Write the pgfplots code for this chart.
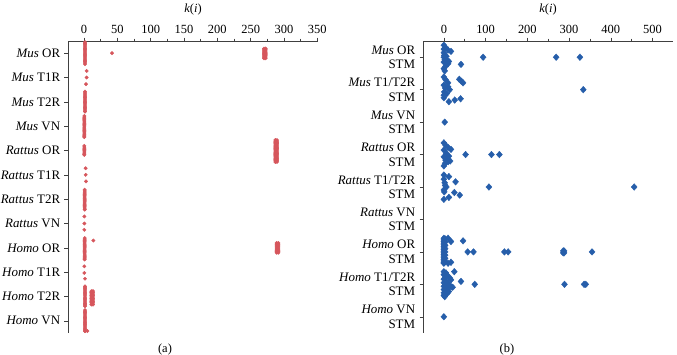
\documentclass[border=0pt]{standalone}
\usepackage{fontspec}
\setmainfont{Liberation Serif}
\usepackage{pgfplots}
\pgfplotsset{compat=1.18}
\definecolor{myred}{RGB}{214,86,92}
\definecolor{myblue}{RGB}{38,94,170}
\begin{document}
\fontsize{12.5}{14}\selectfont
\begin{tikzpicture}
\path[use as bounding box] (0,0) rectangle (677bp,355bp);
\pgfplotsset{
 common/.style={
  scale only axis, width=250bp, height=292bp,
  y dir=reverse,
  axis x line*=top, axis y line*=left,
  axis line style={black!75, line width=0.6pt},
  tick style={black!75, line width=0.5pt},
  tick align=outside,
  major tick length=3.5bp, minor tick length=2.5bp,
  minor x tick num=1,
  ymin=0.5,
  /pgf/number format/assume math mode=true,
  xticklabel style={font=\fontsize{12.5}{14}\selectfont},
  yticklabel style={font=\fontsize{13}{14.5}\selectfont, align=right},
  clip=false,
 }}
\begin{axis}[common, at={(68bp,22bp)}, anchor=south west,
  xmin=-24, xmax=351, ymax=12.5,
  xtick={0,50,...,350},
  ytick={1,...,12},
  yticklabels={{\textit{Mus} OR},{\textit{Mus} T1R},{\textit{Mus} T2R},{\textit{Mus} VN},
   {\textit{Rattus} OR},{\textit{Rattus} T1R},{\textit{Rattus} T2R},{\textit{Rattus} VN},
   {\textit{Homo} OR},{\textit{Homo} T1R},{\textit{Homo} T2R},{\textit{Homo} VN}},
]
\addplot[only marks, mark=*, mark size=1.7bp, color=myred, mark options={draw=none, fill=myred}] coordinates {
(1.5,0.55)(1.5,0.6)(1.5,0.65)(1.5,0.7)(1.5,0.75)(1.5,0.8)(1.5,0.85)(1.5,0.9)(1.5,0.95)(1.5,1.0)(1.5,1.05)(1.5,1.1)(1.5,1.15)(1.5,1.2)(1.5,1.25)(1.5,1.3)(1.5,1.35)(1.5,1.4)(1.5,1.45)
(42,1.0)
(270,0.81)(270,0.86)(270,0.91)(270,0.96)(270,1.01)(270,1.06)(270,1.11)(270,1.16)(270,1.21)
(272.5,0.81)(272.5,0.86)(272.5,0.91)(272.5,0.96)(272.5,1.01)(272.5,1.06)(272.5,1.11)(272.5,1.16)(272.5,1.21)
(4,1.73)(4,2.0)(3,2.27)
(1.5,2.58)(1.5,2.63)(1.5,2.68)(1.5,2.73)(1.5,2.78)(1.5,2.83)(1.5,2.88)(1.5,2.93)(1.5,2.98)(1.5,3.03)(1.5,3.08)(1.5,3.13)(1.5,3.18)(1.5,3.23)(1.5,3.28)(1.5,3.33)(1.5,3.38)(1.5,3.4)
(0.5,3.58)(0.5,3.63)(0.5,3.68)(0.5,3.73)(0.5,3.78)(0.5,3.83)(0.5,3.88)(0.5,3.93)(0.5,3.98)(0.5,4.03)(0.5,4.08)(0.5,4.13)(0.5,4.18)(0.5,4.23)(0.5,4.28)(0.5,4.33)(0.5,4.38)(0.5,4.43)(0.5,4.45)
(0.5,4.81)(0.5,4.86)(0.5,4.91)(0.5,4.96)(0.5,5.01)(0.5,5.06)(0.5,5.11)(0.5,5.16)(0.5,5.18)
(287,4.57)(287,4.62)(287,4.67)(287,4.72)(287,4.77)(287,4.82)(287,4.87)(287,4.92)(287,4.97)(287,5.02)(287,5.07)(287,5.12)(287,5.17)(287,5.22)(287,5.27)(287,5.32)(287,5.37)(287,5.42)(287,5.47)
(289.5,4.57)(289.5,4.62)(289.5,4.67)(289.5,4.72)(289.5,4.77)(289.5,4.82)(289.5,4.87)(289.5,4.92)(289.5,4.97)(289.5,5.02)(289.5,5.07)(289.5,5.12)(289.5,5.17)(289.5,5.22)(289.5,5.27)(289.5,5.32)(289.5,5.37)(289.5,5.42)(289.5,5.47)
(2.5,5.73)(2.5,6.0)(3,6.27)
(1,6.61)(1,6.66)(1,6.71)(1,6.76)(1,6.81)(1,6.86)(1,6.91)(1,6.96)(1,7.01)(1,7.06)(1,7.11)(1,7.16)(1,7.21)(1,7.26)(1,7.31)(1,7.36)(1,7.41)(1,7.43)
(0.5,7.71)(0.5,8.0)(0.5,8.26)
(1,8.6)(1,8.65)(1,8.7)(1,8.75)(1,8.8)(1,8.85)(1,8.9)(1,8.95)(1,9.0)(1,9.05)(1,9.1)(1,9.15)(1,9.2)(1,9.25)(1,9.3)(1,9.35)(1,9.4)(1,9.45)(1,9.48)
(14,8.7)
(289,8.8)(289,8.85)(289,8.9)(289,8.95)(289,9.0)(289,9.05)(289,9.1)(289,9.15)(289,9.2)
(291.5,8.8)(291.5,8.85)(291.5,8.9)(291.5,8.95)(291.5,9.0)(291.5,9.05)(291.5,9.1)(291.5,9.15)(291.5,9.2)
(0.5,9.76)(0.5,10.03)(1.5,10.27)
(1.5,10.58)(1.5,10.63)(1.5,10.68)(1.5,10.73)(1.5,10.78)(1.5,10.83)(1.5,10.88)(1.5,10.93)(1.5,10.98)(1.5,11.03)(1.5,11.08)(1.5,11.13)(1.5,11.18)(1.5,11.23)(1.5,11.28)(1.5,11.33)(1.5,11.38)(1.5,11.4)
(11,10.78)(11,10.84)(11,10.9)(11,10.96)(11,11.02)(11,11.08)(11,11.14)(11,11.2)(11,11.26)(11,11.33)
(13.5,10.78)(13.5,10.84)(13.5,10.9)(13.5,10.96)(13.5,11.02)(13.5,11.08)(13.5,11.14)(13.5,11.2)(13.5,11.26)(13.5,11.33)
(1.5,11.56)(1.5,11.61)(1.5,11.66)(1.5,11.71)(1.5,11.76)(1.5,11.81)(1.5,11.86)(1.5,11.91)(1.5,11.96)(1.5,12.01)(1.5,12.06)(1.5,12.11)(1.5,12.16)(1.5,12.21)(1.5,12.26)(1.5,12.31)(1.5,12.36)(1.5,12.41)(1.5,12.42)
(5,12.42)
};
\end{axis}
\begin{axis}[common, at={(423bp,22bp)}, anchor=south west,
  xmin=-50, xmax=549, ymax=9.5,
  xtick={0,100,...,500},
  ytick={1,...,9},
  yticklabels={{\textit{Mus} OR\\STM},{\textit{Mus} T1/T2R\\STM},{\textit{Mus} VN\\STM},
   {\textit{Rattus} OR\\STM},{\textit{Rattus} T1/T2R\\STM},{\textit{Rattus} VN\\STM},
   {\textit{Homo} OR\\STM},{\textit{Homo} T1/T2R\\STM},{\textit{Homo} VN\\STM}},
]
\addplot[only marks, mark=diamond*, mark size=3.3bp, color=myblue, mark options={draw=none, fill=myblue, xscale=1.2}] coordinates {
(0,0.63)(4,0.7)(10,0.78)(17,0.82)(0,0.75)(0,0.86)(1,0.94)(6,0.97)(0,1.0)(2,1.08)(8,1.1)(12,1.13)(0,1.15)(10,1.2)(4,1.28)(0,1.35)(2,1.42)(41,1.22)(94,1.0)(269,1.0)(326,1.0)
(0,1.61)(4,1.69)(10,1.79)(0,1.86)(10,1.91)(3,1.95)(14,2.0)(1,2.07)(7,2.12)(0,2.17)(0,2.25)(12,2.37)(26,2.32)(40,2.28)(37,1.68)(42,1.74)(46,1.79)(334,2.0)
(2,3.0)
(0,3.64)(4,3.71)(10,3.78)(17,3.84)(0,3.86)(6,3.96)(0,4.07)(12,4.05)(8,4.12)(4,4.17)(15,4.2)(10,4.22)(3,4.27)(0,4.35)(52,4.0)(114,4.0)(133,4.0)
(0,4.63)(12,4.68)(0,4.76)(2,4.87)(28,4.84)(3,4.95)(6,5.0)(0,5.09)(1,5.15)(25,5.17)(38,5.25)(12,5.32)(0,5.38)(108,5.0)(456,5.0)
(0,6.58)(0,6.63)(0,6.68)(0,6.73)(0,6.78)(0,6.83)(0,6.88)(0,6.93)(0,6.98)(0,7.03)(0,7.08)(0,7.13)(0,7.18)(0,7.23)(0,7.28)(0,7.33)(0,7.35)
(3,6.6)(3,6.7)(3,6.8)(3,6.9)(3,7.0)(3,7.1)(3,7.2)(3,7.3)
(10,6.58)(17,6.68)(10,7.35)(17,7.32)(46,6.66)(57,7.0)(71,7.0)(145,7.0)(154,7.0)(286,6.97)(288,7.03)(286,7.03)(288,6.97)(355,7.0)
(0,7.61)(5,7.65)(0,7.7)(8,7.72)(3,7.78)(14,7.8)(0,7.84)(17,7.86)(6,7.9)(0,7.95)(10,7.97)(3,8.02)(0,8.06)(17,8.07)(21,8.09)(8,8.12)(0,8.16)(5,8.2)(12,8.22)(0,8.26)(4,8.3)(8,8.28)(0,8.34)(2,8.38)
(25,7.61)(41,7.91)(74,8.0)(289,8.0)(336,8.0)(340,8.0)
(0,9.0)
};
\end{axis}
\node at (193bp,345bp) {\textit{k}(\textit{i})};
\node at (548bp,345bp) {\textit{k}(\textit{i})};
\node at (165bp,5.5bp) {(a)};
\node at (507bp,5.5bp) {(b)};
\end{tikzpicture}
\end{document}
